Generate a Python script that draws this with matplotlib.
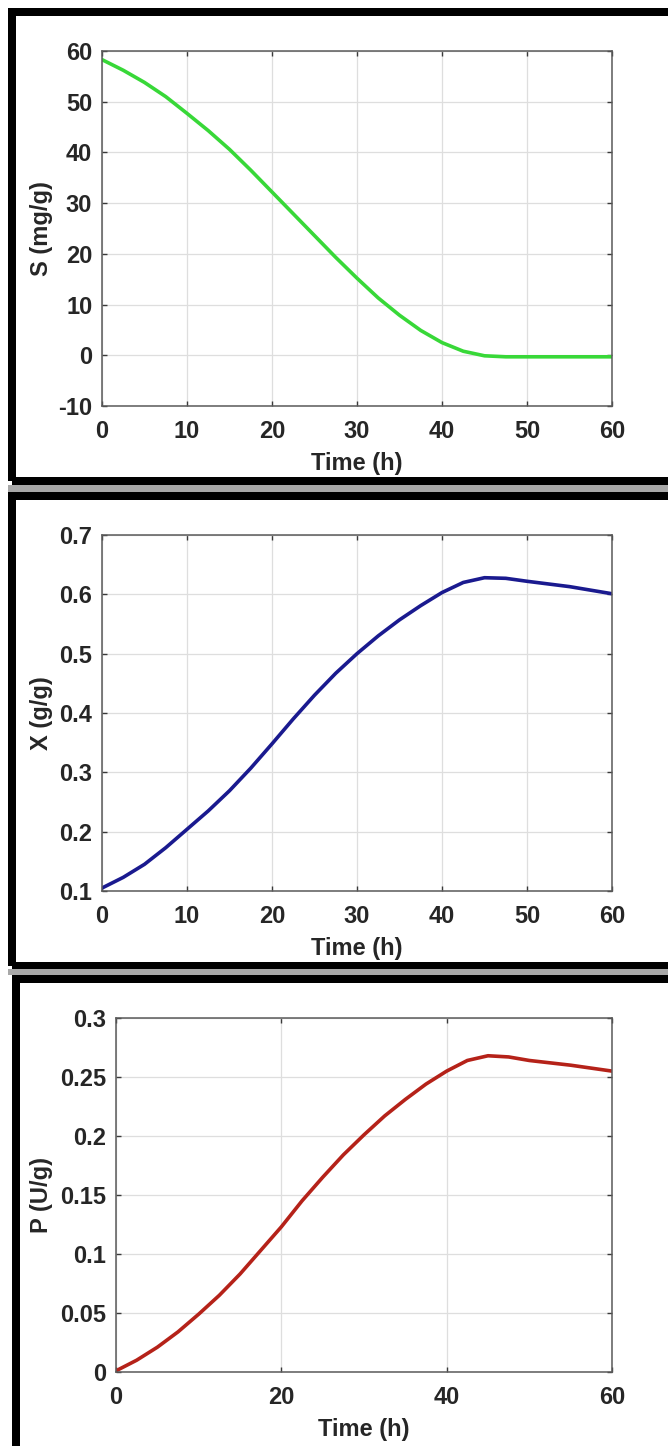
import numpy as np
import matplotlib
matplotlib.use("Agg")
import matplotlib.pyplot as plt
from matplotlib.patches import Rectangle

plt.rcParams["font.family"] = ["Liberation Sans", "DejaVu Sans"]
plt.rcParams["font.weight"] = "bold"

# values
time_h = [0, 2.5, 5, 7.5, 10, 12.5, 15, 17.5, 20, 22.5, 25, 27.5, 30,
          32.5, 35, 37.5, 40, 42.5, 45, 47.5, 50, 55, 60]
substrate = [58.3, 56.2, 53.8, 51.0, 47.7, 44.3, 40.6, 36.5, 32.2, 27.9, 23.6,
             19.3, 15.2, 11.3, 7.9, 4.9, 2.5, 0.8, -0.1, -0.3, -0.3, -0.3, -0.3]
biomass = [0.105, 0.123, 0.145, 0.173, 0.204, 0.235, 0.269, 0.307, 0.348,
           0.390, 0.430, 0.467, 0.500, 0.530, 0.557, 0.581, 0.603, 0.620,
           0.628, 0.627, 0.622, 0.613, 0.601]
product = [0.001, 0.010, 0.021, 0.034, 0.049, 0.065, 0.083, 0.103, 0.123,
           0.145, 0.165, 0.184, 0.201, 0.217, 0.231, 0.244, 0.255, 0.264,
           0.268, 0.267, 0.264, 0.260, 0.255]

W, H = 668, 1446
fig = plt.figure(figsize=(W / 100, H / 100), dpi=100)


def fx(px):
    return px / W


def fy(py):
    return 1 - py / H


def frame(x0, y0, x1, y1, lw_px):
    fig.patches.append(Rectangle((fx(x0), fy(y1)), fx(x1) - fx(x0), fy(y0) - fy(y1),
                                 transform=fig.transFigure, fill=False,
                                 edgecolor="black", linewidth=lw_px * 0.72))


def shadow(y0, y1):
    fig.patches.append(Rectangle((fx(8), fy(y1)), 1, fy(y0) - fy(y1),
                                 transform=fig.transFigure, facecolor="#a8a8a8",
                                 edgecolor="none"))


# black frames around each panel
frame(12, 12, 700, 481, 8)
shadow(485, 492)
frame(12, 496, 700, 965.5, 8)
shadow(969, 975)
frame(15.5, 979, 700, 1448, 8)

FS = 17


def panel(rect_px, y, color, ylabel, ylim, yticks, yticklabels, xticks):
    l, t, r, b = rect_px
    ax = fig.add_axes([fx(l), fy(b), fx(r) - fx(l), fy(t) - fy(b)])
    ax.plot(time_h, y, color=color, linewidth=2.6, solid_joinstyle="round")
    ax.set_xlim(0, 60)
    ax.set_ylim(*ylim)
    ax.set_xticks(xticks)
    ax.set_yticks(yticks)
    ax.set_yticklabels(yticklabels)
    ax.grid(True, color="#dedede", linewidth=0.9)
    ax.set_axisbelow(True)
    for s in ax.spines.values():
        s.set_color("#5a5a5a")
        s.set_linewidth(1.1)
    ax.tick_params(direction="in", length=3.5, width=1, color="#3a3a3a",
                   top=True, right=True, labelsize=FS, labelcolor="#262626")
    ax.tick_params(axis="x", pad=10)
    ax.tick_params(axis="y", pad=7)
    ax.set_xlabel("Time (h)", fontsize=FS, fontweight="bold", color="#262626")
    ax.set_ylabel(ylabel, fontsize=FS, fontweight="bold", color="#262626")
    ax.xaxis.set_label_coords(0.5, -46 / (b - t))
    ax.yaxis.set_label_coords((53 - l) / (r - l), 0.5)
    return ax


panel((102, 51, 612, 406), substrate, "#38d838", "S (mg/g)", (-10, 60),
      [-10, 0, 10, 20, 30, 40, 50, 60],
      ["-10", "0", "10", "20", "30", "40", "50", "60"],
      [0, 10, 20, 30, 40, 50, 60])
panel((102, 535, 612, 891), biomass, "#1a1a8f", "X (g/g)", (0.1, 0.7),
      [0.1, 0.2, 0.3, 0.4, 0.5, 0.6, 0.7],
      ["0.1", "0.2", "0.3", "0.4", "0.5", "0.6", "0.7"],
      [0, 10, 20, 30, 40, 50, 60])
panel((116, 1018, 612, 1372), product, "#b52219", "P (U/g)", (0, 0.3),
      [0, 0.05, 0.1, 0.15, 0.2, 0.25, 0.3],
      ["0", "0.05", "0.1", "0.15", "0.2", "0.25", "0.3"],
      [0, 20, 40, 60])

fig.savefig("out.png", dpi=100)
